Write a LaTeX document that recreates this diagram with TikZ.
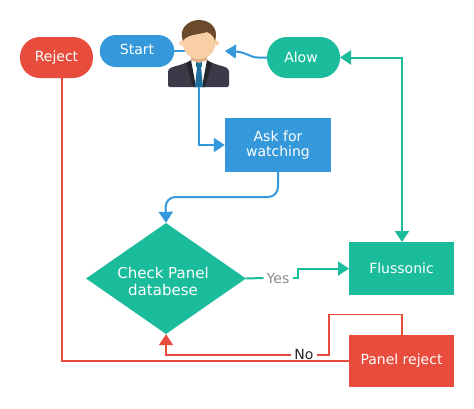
\documentclass[tikz,border=0pt]{standalone}
\usepackage{fontspec}
\setmainfont{DejaVu Sans}
\usetikzlibrary{arrows.meta,shapes.geometric}
\definecolor{cblue}{HTML}{3498DB}
\definecolor{cgreen}{HTML}{1ABC9C}
\definecolor{cred}{HTML}{E74C3C}
\definecolor{suit}{HTML}{3A3A48}
\definecolor{lapel}{HTML}{26262E}
\definecolor{tiec}{HTML}{1F6F9C}
\definecolor{skin}{HTML}{F9D0A5}
\definecolor{neck}{HTML}{DDAF85}
\definecolor{hair}{HTML}{6B4A2B}
\tikzset{
  boxnode/.style={fill=#1, text=white, inner sep=0pt, align=center, font=\fontsize{14}{15}\selectfont},
  pillnode/.style={fill=#1, text=white, inner sep=0pt, rounded corners=20pt, minimum width=73pt, minimum height=41pt, font=\fontsize{14}{17}\selectfont},
  bluearrow/.style={draw=cblue, line width=2pt},
  greenarrow/.style={draw=cgreen, line width=2pt},
  redline/.style={draw=cred, line width=1.5pt},
  tipend/.style={-{Triangle[length=11pt,width=14pt]}},
  lbl/.style={inner xsep=3pt, inner ysep=0pt, font=\fontsize{14}{17}\selectfont}
}
\begin{document}
\begin{tikzpicture}[x=1pt,y=-1pt]
\useasboundingbox (0,0) rectangle (474,408);
\fill[white] (0,0) rectangle (474,408);
% nodes
\node[pillnode=cblue, rounded corners=16pt, minimum width=74.5pt, minimum height=32pt] (start) at (137,51) {\raisebox{2.5pt}{Start}};
\node[pillnode=cred] (reject) at (56.5,57.5) {Reject};
\node[pillnode=cgreen] (alow) at (303.5,57.5) {\hspace*{-5pt}Alow};
\node[boxnode=cblue, minimum width=106pt, minimum height=54pt] (ask) at (278,145) {\raisebox{-1.5pt}{Ask for}\\\raisebox{-1.5pt}{watching}};
\node[boxnode=cgreen, minimum width=104.5pt, minimum height=53pt] (fluss) at (401.5,268.5) {Flussonic};
\node[boxnode=cred, minimum width=104.5pt, minimum height=52.5pt] (panel) at (401.5,361) {Panel reject};
\node[diamond, aspect=1.44, fill=cgreen, inner sep=0pt, minimum width=160pt, minimum height=111pt] (check) at (166,278.5) {};
\node[text=white, inner sep=0pt, align=center, font=\fontsize{15}{17}\selectfont] (checktxt) at (163,281) {Check Panel\\databese};
\node[lbl, text=gray!90] (yes) at (278,278) {Yes};
\node[lbl, text=black!85] (no) at (304,355) {\raisebox{1pt}{No}};
\coordinate (man) at (199,51);
\coordinate (manb) at (199,87);
\coordinate (rejb) at (62,78);
\coordinate (flt) at (402,242);
\coordinate (pat) at (402,334.5);
\coordinate (alr) at (340,57.5);
\coordinate (alw) at (267,57.5);
\coordinate (mant) at (225,51);
% connectors
\draw[bluearrow] (start.east) -- (man);
\draw[bluearrow, tipend] (manb) -- (199,145) -- (ask.west);
\draw[bluearrow, tipend] (alw) -- (258,57.5) .. controls (250,57.5) and (246,52) .. (mant);
\draw[bluearrow, rounded corners=10pt, tipend] (ask.south) -- (278,197) -- (165.5,197) -- (check.north);
\draw[greenarrow, {Triangle[length=11pt,width=14pt]}-{Triangle[length=11pt,width=14pt]}] (alr) -- (402,57.5) -- (flt);
\draw[greenarrow] (check.east) -- (yes.west);
\draw[greenarrow, tipend] (yes.east) -- (298,278) -- (298,268.5) -- (fluss.west);
\draw[redline] (rejb) -- (62,361) -- (panel.west);
\draw[redline] (pat) -- (402,314.5) -- (329,314.5) -- (329,355) -- (no.east);
\draw[redline, tipend] (no.west) -- (166,355) -- (check.south);
% man
\fill[suit, rounded corners=2pt] (168,87) -- (168,74) .. controls (168,68) and (172,67) .. (180,65) -- (188,62) -- (210,62) -- (218,65) .. controls (226,67) and (229,68) .. (229,74) -- (229,87) -- cycle;
\fill[white] (191,62) -- (207,62) -- (205,87) -- (193,87) -- cycle;
\fill[lapel] (186,63) -- (191,60) -- (196,87) -- (193,87) -- cycle;
\fill[lapel] (212,63) -- (207,60) -- (202,87) -- (205,87) -- cycle;
\fill[tiec] (197,67) -- (201,67) -- (203,87) -- (195,87) -- cycle;
\fill[tiec] (196,62) rectangle (202,67);
\fill[neck] (191,50) -- (207,50) -- (207,60) -- (199,63) -- (191,60) -- cycle;
\fill[skin] (181.5,43) circle (2.5pt);
\fill[skin] (216.5,43) circle (2.5pt);
\fill[skin] (182.5,30) -- (215.5,30) -- (215.5,42) .. controls (215.5,54) and (206,59) .. (199,59) .. controls (192,59) and (182.5,54) .. (182.5,42) -- cycle;
\fill[hair] (183,41) .. controls (178,28) and (189,20) .. (199,20) .. controls (210,20) and (219,28) .. (215,41) .. controls (214,37) and (212,34) .. (207,32) .. controls (198,35) and (187,34) .. (183,41) -- cycle;
\end{tikzpicture}
\end{document}
